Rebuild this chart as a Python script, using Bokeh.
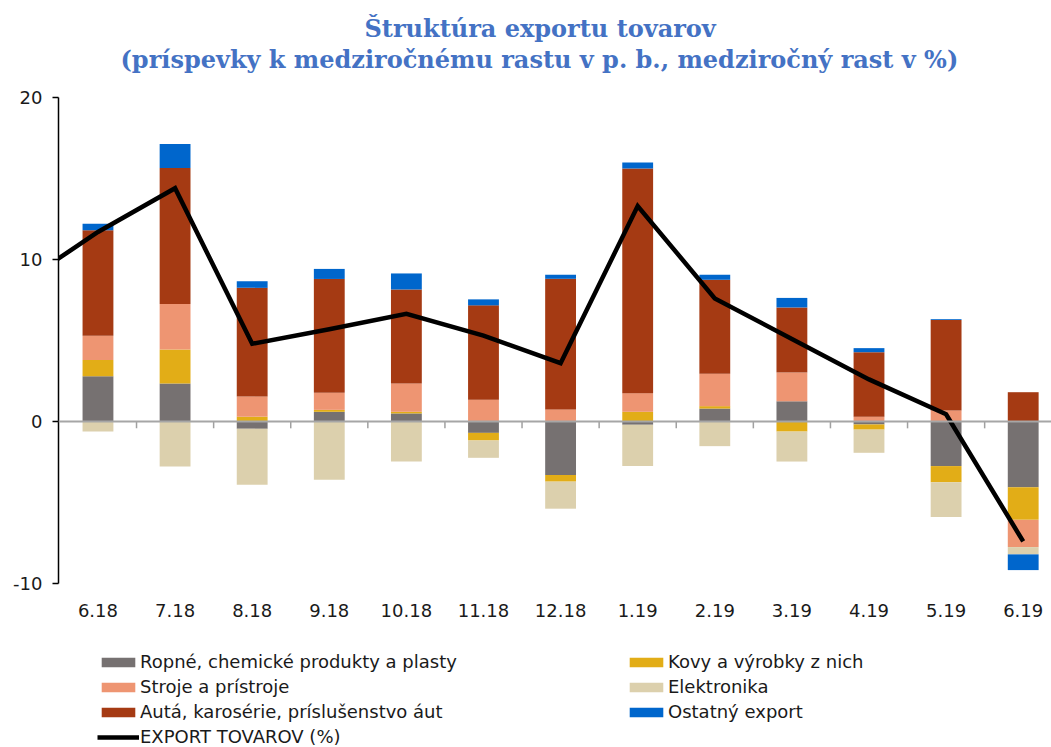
import numpy as np
from bokeh.plotting import figure
from bokeh.models import (ColumnDataSource, FixedTicker, Span, Legend, LegendItem,
                          Title, Range1d)
from bokeh.embed import file_html
from bokeh.resources import INLINE

# ---------------- data ----------------
months = ["6.18", "7.18", "8.18", "9.18", "10.18", "11.18", "12.18",
          "1.19", "2.19", "3.19", "4.19", "5.19", "6.19"]

ropne       = [2.80, 2.35, -0.45, 0.60, 0.50, -0.70, -3.30, -0.20, 0.80, 1.25, -0.18, -2.75, -4.05]
kovy        = [1.00, 2.10, 0.30, 0.12, 0.10, -0.47, -0.41, 0.60, 0.15, -0.62, -0.32, -1.00, -2.02]
stroje      = [1.50, 2.80, 1.25, 1.05, 1.75, 1.35, 0.75, 1.15, 2.00, 1.77, 0.30, 0.68, -1.68]
elektronika = [-0.62, -2.78, -3.45, -3.60, -2.47, -1.07, -1.67, -2.54, -1.52, -1.85, -1.43, -2.14, -0.45]
auta        = [6.50, 8.40, 6.70, 7.03, 5.80, 5.82, 8.06, 13.87, 5.80, 4.02, 3.98, 5.59, 1.81]
ostatny     = [0.41, 1.48, 0.41, 0.62, 0.99, 0.37, 0.25, 0.37, 0.31, 0.59, 0.25, 0.05, -0.97]

# total export growth (%), the line starts one month earlier (5.18) outside the plot area
line_months = ["5.18"] + months
export      = [8.5, 11.7, 14.4, 4.8, 5.7, 6.65, 5.3, 3.6, 13.3, 7.6, 5.1, 2.6, 0.45, -7.4]

y_ticks = [-10, 0, 10, 20]

series_names = ["Ropné, chemické produkty a plasty", "Kovy a výrobky z nich",
                "Stroje a prístroje", "Elektronika",
                "Autá, karosérie, príslušenstvo áut", "Ostatný export"]
series_vals = [ropne, kovy, stroje, elektronika, auta, ostatny]
series_colors = ["#767171", "#E2AD17", "#EE9572", "#DCD0AD", "#A53A13", "#0066CC"]
line_name = "EXPORT TOVAROV (%)"

title1 = "Štruktúra exportu tovarov"
title2 = "(príspevky k medziročnému rastu v p. b., medziročný rast v %)"

FONT = "DejaVu Sans"
TEXT = "#1a1a1a"

# ---------------- figure ----------------
# frame runs down to the bottom of the figure so that the legend (drawn in the
# frame) is not clipped; the value axis itself is bounded to -10..20
p = figure(width=1051, height=747,
           x_range=Range1d(-0.512, 12.367), y_range=Range1d(-20.12, 20),
           output_backend="svg", toolbar_location=None,
           min_border_left=58, min_border_right=0, min_border_top=97,
           min_border_bottom=0)
p.outline_line_color = None
p.xgrid.visible = False
p.ygrid.visible = False
p.background_fill_color = "white"

x = np.arange(len(months))
pos_base = np.zeros(len(months))
neg_base = np.zeros(len(months))
bar_renderers = []
for name, vals, col in zip(series_names, series_vals, series_colors):
    v = np.array(vals, dtype=float)
    bottom = np.where(v >= 0, pos_base, neg_base)
    top = bottom + v
    pos_base = np.where(v >= 0, top, pos_base)
    neg_base = np.where(v < 0, top, neg_base)
    src = ColumnDataSource(dict(x=x, bottom=bottom, top=top))
    r = p.vbar(x="x", bottom="bottom", top="top", width=0.4, source=src,
               fill_color=col, line_color=None)
    bar_renderers.append(r)

# category separator ticks hanging below the zero line
bounds = np.arange(len(months)) + 0.5
p.segment(x0=bounds, x1=bounds, y0=np.zeros(len(bounds)), y1=np.full(len(bounds), -0.42),
          line_color="#A0A0A0", line_width=1.5)

p.add_layout(Span(location=0, dimension="width", line_color="#A6A6A6", line_width=2))

lx = np.arange(len(line_months)) - 1
line_r = p.line(x=lx, y=export, line_color="black", line_width=4.5, line_join="miter")

# ---------------- axes ----------------
xa = p.xaxis[0]
xa.fixed_location = min(y_ticks)
xa.ticker = FixedTicker(ticks=list(range(len(months))))
xa.major_label_overrides = {i: m for i, m in enumerate(months)}
xa.axis_line_color = None
xa.major_tick_line_color = None
xa.minor_tick_line_color = None
xa.major_tick_out = 0
xa.major_tick_in = 0
xa.major_label_standoff = 20
xa.major_label_text_font = FONT
xa.major_label_text_font_size = "18px"
xa.major_label_text_color = TEXT

ya = p.yaxis[0]
ya.ticker = FixedTicker(ticks=y_ticks)
ya.bounds = (min(y_ticks), max(y_ticks))
ya.major_label_overrides = {t: str(t) for t in y_ticks}
ya.axis_line_color = "black"
ya.axis_line_width = 1.5
ya.major_tick_line_color = "black"
ya.major_tick_line_width = 1.5
ya.major_tick_out = 6
ya.major_tick_in = 0
ya.minor_tick_line_color = None
ya.major_label_standoff = 10
ya.major_label_text_font = FONT
ya.major_label_text_font_size = "18px"
ya.major_label_text_color = TEXT

# ---------------- titles ----------------
t2 = Title(text=title2, align="left", text_font="DejaVu Serif", text_font_style="bold",
           text_font_size="24px", text_color="#4472C4", standoff=48, offset=62)
t1 = Title(text=title1, align="left", text_font="DejaVu Serif", text_font_style="bold",
           text_font_size="24px", text_color="#4472C4", standoff=-48, offset=306)
p.add_layout(t2, "above")
p.add_layout(t1, "above")

# ---------------- legend ----------------
items = [
    LegendItem(label=series_names[0], renderers=[bar_renderers[0]]),
    LegendItem(label=series_names[2], renderers=[bar_renderers[2]]),
    LegendItem(label=series_names[4], renderers=[bar_renderers[4]]),
    LegendItem(label=line_name, renderers=[line_r]),
    LegendItem(label=series_names[1], renderers=[bar_renderers[1]]),
    LegendItem(label=series_names[3], renderers=[bar_renderers[3]]),
    LegendItem(label=series_names[5], renderers=[bar_renderers[5]]),
]
legend = Legend(items=items, ncols=2, orientation="vertical", location=(39, 0),
                label_width=481, glyph_width=42, glyph_height=12, label_standoff=1,
                spacing=4, padding=0, margin=0, label_height=20,
                border_line_color=None, background_fill_alpha=0,
                label_text_font=FONT, label_text_font_size="18px",
                label_text_color=TEXT)
p.add_layout(legend, "center")

open("out.html", "w").write(file_html(p, INLINE))
